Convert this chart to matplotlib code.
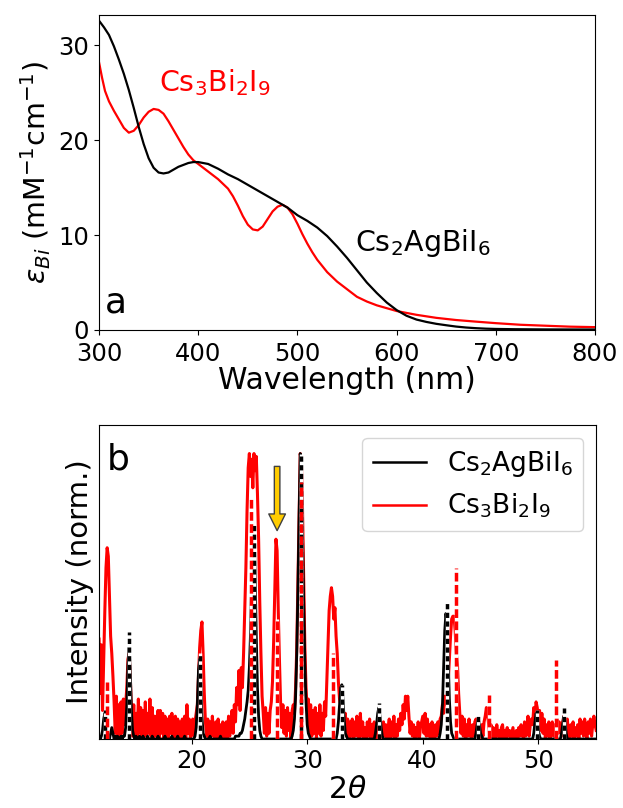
import numpy as np
import matplotlib
matplotlib.use('Agg')
import matplotlib.pyplot as plt

plt.rcParams['font.size'] = 18

# ---- (a) absorption spectra ----
wl_black = [300, 305, 310, 315, 320, 325, 330, 335, 340, 345, 350, 355, 360, 365,
            370, 375, 380, 385, 390, 395, 400, 410, 420, 430, 440, 450, 460, 470,
            480, 490, 500, 510, 520, 530, 540, 550, 560, 570, 580, 590, 600, 610,
            620, 630, 640, 650, 660, 670, 680, 690, 700, 720, 750, 800]
eps_black = [32.6, 31.9, 31.1, 29.9, 28.5, 27.0, 25.3, 23.4, 21.4, 19.6, 18.1, 17.1, 16.6, 16.5,
             16.6, 16.9, 17.2, 17.4, 17.6, 17.7, 17.7, 17.5, 17.0, 16.4, 15.9, 15.3, 14.7, 14.1,
             13.5, 12.9, 12.1, 11.5, 10.8, 9.9, 8.8, 7.6, 6.3, 5.0, 3.9, 2.9, 2.1, 1.5,
             1.1, 0.85, 0.65, 0.5, 0.36, 0.26, 0.19, 0.14, 0.11, 0.08, 0.06, 0.05]

wl_red = [300, 303, 306, 310, 315, 320, 325, 330, 335, 340, 345, 350, 355, 360,
          365, 370, 375, 380, 385, 390, 395, 400, 405, 410, 415, 420, 425, 430,
          435, 440, 445, 450, 455, 460, 465, 470, 475, 480, 485, 490, 495, 500,
          505, 510, 515, 520, 530, 540, 550, 560, 570, 580, 590, 600, 620, 640,
          660, 680, 700, 725, 750, 775, 800]
eps_red = [28.2, 26.6, 25.2, 24.1, 23.1, 22.2, 21.3, 20.8, 21.0, 21.6, 22.4, 23.0, 23.3, 23.2,
           22.8, 22.0, 21.1, 20.2, 19.3, 18.5, 17.9, 17.5, 17.1, 16.7, 16.3, 15.9, 15.4, 14.9,
           14.1, 13.1, 12.0, 11.1, 10.6, 10.5, 10.9, 11.7, 12.5, 13.0, 13.2, 12.9, 12.2, 11.2,
           10.1, 9.1, 8.2, 7.4, 6.1, 5.1, 4.3, 3.5, 3.0, 2.6, 2.3, 2.0, 1.6, 1.28,
           1.05, 0.88, 0.72, 0.55, 0.45, 0.35, 0.3]

# ---- (b) XRD, sampled every 0.1 deg from 12.0 to 55.0 ----
two_theta = np.round(np.arange(12.0, 55.05, 0.1), 1)

xrd_red = [
    0.35, 0.16, 0.33, 0.10, 0.28, 0.45, 0.60, 0.67, 0.64, 0.50,  # 12
    0.36, 0.30, 0.22, 0.13, 0.02, 0.15, 0.00, 0.12, 0.01, 0.13,  # 13
    0.02, 0.14, 0.05, 0.12, 0.18, 0.28, 0.30, 0.22, 0.10, 0.01,  # 14
    0.12, 0.00, 0.09, 0.01, 0.14, 0.02, 0.11, 0.00, 0.10, 0.01,  # 15
    0.13, 0.01, 0.09, 0.02, 0.14, 0.01, 0.11, 0.00, 0.08, 0.01,  # 16
    0.07, 0.10, 0.00, 0.10, 0.02, 0.09, 0.00, 0.08, 0.01, 0.07,  # 17
    0.00, 0.08, 0.02, 0.09, 0.00, 0.06, 0.08, 0.00, 0.07, 0.01,  # 18
    0.06, 0.00, 0.07, 0.01, 0.08, 0.00, 0.12, 0.02, 0.07, 0.00,  # 19
    0.03, 0.07, 0.01, 0.06, 0.09, 0.12, 0.22, 0.32, 0.38, 0.41,  # 20
    0.30, 0.16, 0.06, 0.01, 0.07, 0.00, 0.06, 0.01, 0.08, 0.02,  # 21
    0.00, 0.06, 0.00, 0.07, 0.01, 0.05, 0.00, 0.06, 0.00, 0.04,  # 22
    0.06, 0.00, 0.08, 0.01, 0.05, 0.10, 0.02, 0.12, 0.06, 0.18,  # 23
    0.12, 0.24, 0.10, 0.25, 0.18, 0.30, 0.45, 0.60, 0.80, 0.95,  # 24
    1.00, 0.92, 0.98, 0.88, 1.00, 0.94, 0.99, 0.86, 0.70, 0.48,  # 25
    0.30, 0.15, 0.09, 0.02, 0.11, 0.01, 0.09, 0.02, 0.10, 0.13,  # 26
    0.20, 0.34, 0.52, 0.70, 0.66, 0.45, 0.28, 0.13, 0.04, 0.12,  # 27
    0.02, 0.10, 0.01, 0.11, 0.03, 0.09, 0.00, 0.10, 0.12, 0.09,  # 28
    0.18, 0.32, 0.55, 0.80, 1.00, 0.97, 0.80, 0.55, 0.32, 0.18,  # 29
    0.10, 0.14, 0.02, 0.12, 0.01, 0.10, 0.02, 0.11, 0.00, 0.09,  # 30
    0.02, 0.12, 0.01, 0.09, 0.03, 0.13, 0.08, 0.20, 0.32, 0.45,  # 31
    0.50, 0.53, 0.50, 0.42, 0.46, 0.36, 0.30, 0.20, 0.14, 0.12,  # 32
    0.13, 0.10, 0.05, 0.09, 0.01, 0.07, 0.00, 0.06, 0.01, 0.07,  # 33
    0.00, 0.06, 0.01, 0.08, 0.02, 0.00, 0.09, 0.01, 0.06, 0.00,  # 34
    0.04, 0.00, 0.06, 0.01, 0.07, 0.00, 0.05, 0.00, 0.06, 0.01,  # 35
    0.00, 0.04, 0.01, 0.05, 0.03, 0.00, 0.06, 0.01, 0.05, 0.00,  # 36
    0.04, 0.07, 0.00, 0.06, 0.01, 0.08, 0.00, 0.05, 0.01, 0.07,  # 37
    0.03, 0.09, 0.05, 0.12, 0.07, 0.15, 0.10, 0.15, 0.08, 0.02,  # 38
    0.06, 0.01, 0.05, 0.00, 0.04, 0.01, 0.06, 0.00, 0.04, 0.06,  # 39
    0.08, 0.02, 0.09, 0.01, 0.07, 0.01, 0.05, 0.00, 0.06, 0.02,  # 40
    0.00, 0.05, 0.01, 0.06, 0.02, 0.07, 0.08, 0.12, 0.09, 0.15,  # 41
    0.12, 0.14, 0.20, 0.28, 0.36, 0.42, 0.43, 0.43, 0.38, 0.30,  # 42
    0.26, 0.16, 0.09, 0.02, 0.08, 0.01, 0.07, 0.00, 0.05, 0.01,  # 43
    0.07, 0.02, 0.00, 0.05, 0.01, 0.06, 0.07, 0.04, 0.01, 0.04,  # 44
    0.00, 0.05, 0.01, 0.06, 0.08, 0.11, 0.09, 0.05, 0.01, 0.05,  # 45
    0.00, 0.04, 0.01, 0.00, 0.05, 0.01, 0.03, 0.00, 0.04, 0.05,  # 46
    0.00, 0.03, 0.00, 0.04, 0.01, 0.03, 0.00, 0.02, 0.04, 0.00,  # 47
    0.01, 0.03, 0.00, 0.04, 0.01, 0.05, 0.02, 0.00, 0.06, 0.01,  # 48
    0.02, 0.08, 0.01, 0.05, 0.07, 0.05, 0.11, 0.08, 0.13, 0.11,  # 49
    0.07, 0.10, 0.03, 0.09, 0.02, 0.07, 0.00, 0.05, 0.01, 0.06,  # 50
    0.00, 0.04, 0.06, 0.01, 0.05, 0.00, 0.07, 0.02, 0.06, 0.04,  # 51
    0.01, 0.06, 0.08, 0.03, 0.01, 0.07, 0.02, 0.00, 0.05, 0.01,  # 52
    0.06, 0.00, 0.04, 0.01, 0.05, 0.00, 0.07, 0.02, 0.06, 0.01,  # 53
    0.07, 0.03, 0.00, 0.06, 0.02, 0.07, 0.01, 0.05, 0.08, 0.05,  # 54
    0.03]

xrd_black = [
    0.01, 0.00, 0.01, 0.03, 0.07, 0.09, 0.06, 0.02, 0.01, 0.00,  # 12
    0.02, 0.04, 0.02, 0.00, 0.01, 0.00, 0.01, 0.00, 0.00, 0.01,  # 13
    0.00, 0.01, 0.01, 0.04, 0.12, 0.26, 0.32, 0.24, 0.10, 0.03,  # 14
    0.01, 0.00, 0.01, 0.00, 0.00, 0.01, 0.00, 0.00, 0.01, 0.00,  # 15
    0.00, 0.00, 0.01, 0.00, 0.00, 0.00, 0.01, 0.00, 0.00, 0.00,  # 16
    0.00, 0.01, 0.00, 0.00, 0.00, 0.00, 0.00, 0.01, 0.00, 0.00,  # 17
    0.00, 0.00, 0.00, 0.01, 0.00, 0.00, 0.00, 0.00, 0.01, 0.00,  # 18
    0.00, 0.00, 0.00, 0.00, 0.01, 0.00, 0.00, 0.00, 0.00, 0.00,  # 19
    0.00, 0.00, 0.00, 0.01, 0.04, 0.12, 0.24, 0.28, 0.20, 0.08,  # 20
    0.02, 0.01, 0.00, 0.00, 0.00, 0.00, 0.01, 0.00, 0.00, 0.00,  # 21
    0.00, 0.00, 0.00, 0.00, 0.00, 0.01, 0.00, 0.00, 0.00, 0.00,  # 22
    0.00, 0.00, 0.00, 0.00, 0.00, 0.00, 0.00, 0.00, 0.01, 0.01,  # 23
    0.01, 0.01, 0.02, 0.02, 0.03, 0.05, 0.07, 0.10, 0.13, 0.17,  # 24
    0.25, 0.37, 0.55, 0.70, 0.74, 0.58, 0.36, 0.18, 0.08, 0.03,  # 25
    0.01, 0.00, 0.00, 0.00, 0.00, 0.00, 0.00, 0.00, 0.00, 0.00,  # 26
    0.00, 0.00, 0.00, 0.00, 0.00, 0.00, 0.00, 0.00, 0.00, 0.00,  # 27
    0.00, 0.00, 0.00, 0.00, 0.00, 0.00, 0.00, 0.01, 0.03, 0.07,  # 28
    0.15, 0.30, 0.52, 0.78, 1.00, 0.93, 0.72, 0.48, 0.27, 0.13,  # 29
    0.05, 0.02, 0.01, 0.00, 0.00, 0.00, 0.00, 0.00, 0.00, 0.00,  # 30
    0.00, 0.00, 0.00, 0.00, 0.00, 0.00, 0.00, 0.00, 0.00, 0.00,  # 31
    0.00, 0.00, 0.00, 0.00, 0.00, 0.00, 0.02, 0.06, 0.12, 0.18,  # 32
    0.19, 0.14, 0.07, 0.02, 0.01, 0.00, 0.00, 0.00, 0.00, 0.00,  # 33
    0.00, 0.00, 0.00, 0.00, 0.00, 0.00, 0.00, 0.00, 0.00, 0.00,  # 34
    0.00, 0.00, 0.00, 0.00, 0.00, 0.00, 0.00, 0.00, 0.00, 0.02,  # 35
    0.05, 0.09, 0.11, 0.08, 0.04, 0.01, 0.00, 0.00, 0.00, 0.00,  # 36
    0.00, 0.00, 0.00, 0.00, 0.00, 0.00, 0.00, 0.00, 0.00, 0.00,  # 37
    0.00, 0.00, 0.00, 0.00, 0.00, 0.00, 0.00, 0.00, 0.00, 0.00,  # 38
    0.00, 0.00, 0.00, 0.00, 0.00, 0.00, 0.00, 0.00, 0.00, 0.00,  # 39
    0.00, 0.00, 0.00, 0.00, 0.00, 0.00, 0.00, 0.00, 0.00, 0.00,  # 40
    0.00, 0.00, 0.00, 0.00, 0.00, 0.02, 0.05, 0.12, 0.25, 0.38,  # 41
    0.44, 0.40, 0.28, 0.14, 0.06, 0.02, 0.01, 0.00, 0.00, 0.00,  # 42
    0.00, 0.00, 0.00, 0.00, 0.00, 0.00, 0.00, 0.00, 0.00, 0.00,  # 43
    0.00, 0.00, 0.00, 0.00, 0.00, 0.00, 0.02, 0.05, 0.07, 0.05,  # 44
    0.02, 0.01, 0.00, 0.00, 0.00, 0.00, 0.00, 0.00, 0.00, 0.00,  # 45
    0.00, 0.00, 0.00, 0.00, 0.00, 0.00, 0.00, 0.00, 0.00, 0.00,  # 46
    0.00, 0.00, 0.00, 0.00, 0.00, 0.00, 0.00, 0.00, 0.00, 0.00,  # 47
    0.00, 0.00, 0.00, 0.00, 0.00, 0.00, 0.00, 0.00, 0.00, 0.00,  # 48
    0.00, 0.00, 0.00, 0.00, 0.00, 0.00, 0.02, 0.06, 0.09, 0.07,  # 49
    0.03, 0.01, 0.00, 0.00, 0.00, 0.00, 0.00, 0.00, 0.00, 0.00,  # 50
    0.00, 0.00, 0.00, 0.00, 0.00, 0.00, 0.00, 0.00, 0.00, 0.00,  # 51
    0.02, 0.05, 0.08, 0.06, 0.02, 0.00, 0.00, 0.00, 0.00, 0.00,  # 52
    0.00, 0.00, 0.00, 0.00, 0.00, 0.00, 0.00, 0.00, 0.00, 0.00,  # 53
    0.00, 0.00, 0.00, 0.00, 0.00, 0.00, 0.00, 0.00, 0.00, 0.00,  # 54
    0.00]

# reference stick patterns
ref_black_pos = [12.5, 14.6, 20.7, 25.4, 29.45, 33.0, 36.25, 42.1, 44.8, 49.85, 52.25]
ref_black_int = [0.10, 0.375, 0.30, 0.75, 1.0, 0.19, 0.125, 0.48, 0.085, 0.10, 0.11]
ref_red_pos = [12.7, 25.1, 27.4, 29.5, 32.2, 42.85, 45.7, 51.5]
ref_red_int = [0.20, 0.85, 0.42, 0.90, 0.30, 0.60, 0.155, 0.275]

lbl_agbi = r'Cs$_2$AgBiI$_6$'
lbl_bi = r'Cs$_3$Bi$_2$I$_9$'

fig = plt.figure(figsize=(6.23, 8.08), dpi=100)
ax1 = fig.add_axes([0.159, 0.5916, 0.796, 0.3898])
ax2 = fig.add_axes([0.159, 0.0854, 0.798, 0.3886])

ax1.plot(wl_red, eps_red, color='red', lw=1.6)
ax1.plot(wl_black, eps_black, color='k', lw=1.6)
ax1.set_xlim(300, 800)
ax1.set_ylim(0, 33.2)
ax1.set_yticks([0, 10, 20, 30])
ax1.tick_params(labelsize=17.5)
ax1.tick_params(axis='x', pad=5.5)
ax1.set_xlabel('Wavelength (nm)', fontsize=21.5, labelpad=0)
ax1.set_ylabel(r'$\varepsilon_{Bi}$ (mM$^{-1}$cm$^{-1}$)', fontsize=20.5)
ax1.text(360, 26.1, lbl_bi, color='red', va='center', ha='left', fontsize=20.5)
ax1.text(558, 9.2, lbl_agbi, color='k', va='center', ha='left', fontsize=20.5)
ax1.text(0.012, 0.057, 'a', transform=ax1.transAxes, fontsize=26, va='baseline')

ax2.plot(two_theta, xrd_red, color='red', lw=2.2, label=lbl_bi, zorder=2)
ax2.plot(two_theta, xrd_black, color='k', lw=2, label=lbl_agbi, zorder=3)
sticks = [(ref_black_pos, ref_black_int, 'k', (0, (1.5, 1.0))),
          (ref_red_pos, ref_red_int, 'red', (0, (2.5, 1.0)))]
for pos, inten, col, ls in sticks:
    ax2.vlines(pos, 0, inten, colors='white', lw=2.5, zorder=4)
    ax2.vlines(pos, 0, inten, colors=col, lw=2.5, linestyles=ls, zorder=5)
ax2.annotate('', xy=(27.4, 0.73), xytext=(27.4, 0.955),
             arrowprops=dict(facecolor='#FFCC00', edgecolor='0.25', width=4,
                             headwidth=12, headlength=12, lw=1), zorder=6)
ax2.set_xlim(12, 55)
ax2.set_ylim(0, 1.1)
ax2.set_yticks([])
ax2.set_xticks([20, 30, 40, 50])
ax2.tick_params(labelsize=17.5)
ax2.set_xlabel(r'$2\theta$', fontsize=21.5, labelpad=2)
ax2.set_ylabel('Intensity (norm.)', fontsize=21)
h, l = ax2.get_legend_handles_labels()
leg = ax2.legend([h[1], h[0]], [l[1], l[0]], loc='upper right', fontsize=19)
for line in leg.get_lines():
    line.set_linewidth(1.8)
ax2.text(0.016, 0.857, 'b', transform=ax2.transAxes, fontsize=26, va='baseline')

fig.savefig('out.png', dpi=100)
